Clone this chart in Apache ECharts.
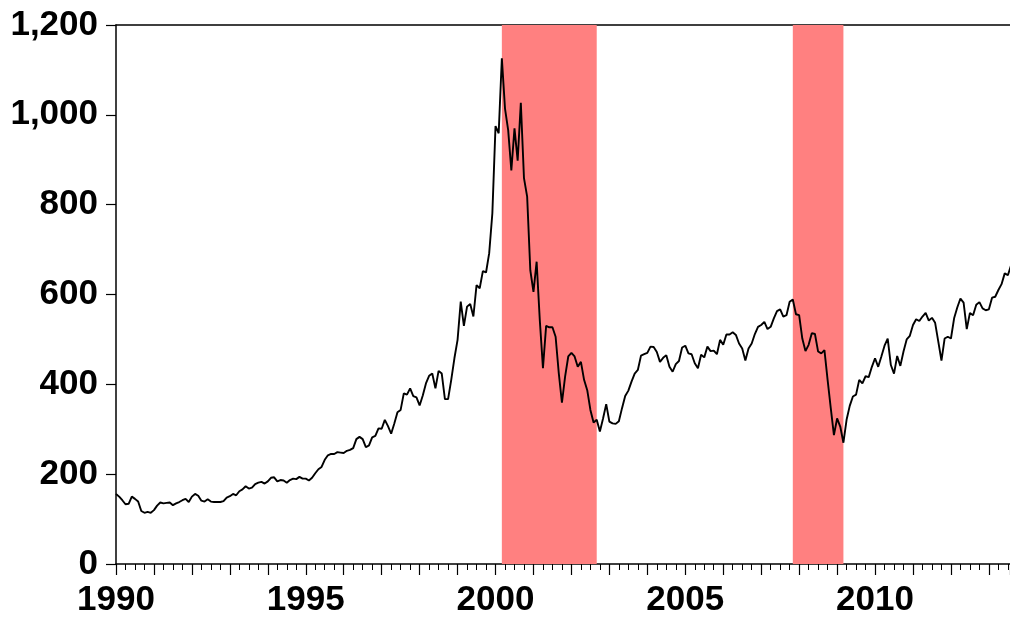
<!DOCTYPE html>
<html>
<head>
<meta charset="utf-8">
<script src="https://cdn.jsdelivr.net/npm/echarts@6/dist/echarts.min.js"></script>
<style>
  html, body { margin: 0; padding: 0; background: #ffffff; }
  #chart { width: 1010px; height: 622px; }
</style>
</head>
<body>
<div id="chart"></div>
<script>
// Monthly index level, January 1990 onwards (one row per year).
const startYear = 1990;
const values1990s = [
  156, 150, 142, 133, 134, 150, 145, 139, 118, 114, 116, 114,
  120, 130, 137, 135, 136, 137, 131, 135, 138, 142, 145, 138,
  150, 156, 152, 141, 139, 144, 139, 138, 138, 138, 140, 148,
  151, 156, 153, 162, 166, 173, 168, 170, 178, 181, 183, 179,
  184, 192, 193, 184, 187, 186, 181, 187, 190, 189, 194, 190,
  190, 186, 192, 202, 211, 216, 232, 242, 245, 245, 249, 248,
  247, 252, 254, 258, 278, 283, 278, 260, 264, 282, 285, 302,
  301, 321, 307, 290, 313, 338, 343, 380, 377, 391, 374, 371,
  353, 375, 402, 419, 424, 391, 430, 424, 367, 367, 410, 458,
  499, 584, 530, 573, 579, 551, 621, 614, 652, 649, 692, 781
];
const values2000s = [
  975, 959, 1126, 1014, 966, 876, 970, 898, 1027, 859, 818, 654,
  606, 673, 543, 436, 530, 527, 527, 506, 425, 359, 417, 462,
  470, 462, 439, 450, 410, 387, 343, 315, 321, 295, 324, 356,
  317, 313, 312, 318, 347, 374, 386, 406, 424, 432, 464, 467,
  470, 484, 483, 472, 450, 459, 465, 439, 428, 445, 452, 482,
  486, 469, 467, 447, 436, 466, 460, 484, 474, 475, 467, 499,
  488, 511, 511, 516, 510, 491, 480, 453, 480, 491, 512, 528,
  532, 539, 523, 528, 547, 563, 567, 551, 554, 584, 589, 556,
  554, 502, 474, 488, 514, 512, 473, 469, 476, 410, 347, 287,
  324, 306, 270, 321, 352, 373, 377, 410, 402, 418, 416, 439
];
const values2010s = [
  458, 439, 462, 486, 502, 443, 424, 463, 441, 473, 500, 508,
  532, 545, 541, 551, 559, 542, 548, 537, 495, 453, 502, 506,
  502, 547, 571, 591, 582, 523, 559, 554, 577, 583, 569, 565,
  567, 593, 595, 610, 623, 647, 643, 665
];

// Shaded periods as [start, end] in fractional years.
const shadedPeriods = [
  [2000 + 2 / 12, 2002 + 8 / 12],
  [2007 + 10 / 12, 2009 + 2 / 12]
];

const xMin = 1990;
const xMax = 2013.556;
const yTickValues = [0, 200, 400, 600, 800, 1000, 1200];
const xLabelYears = [1990, 1995, 2000, 2005, 2010];

const allValues = values1990s.concat(values2000s, values2010s);
const seriesData = allValues.map((v, i) => [startYear + i / 12, v]);

const labelFont = {
  fontFamily: '"Liberation Sans", Arial, sans-serif',
  fontWeight: 'bold',
  fontSize: 35,
  color: '#000000'
};

const chart = echarts.init(document.getElementById('chart'), null, { renderer: 'canvas' });

chart.setOption({
  animation: false,
  backgroundColor: '#ffffff',
  grid: { left: 116, top: 25, right: 0, bottom: 58, containLabel: false },
  xAxis: [
    {
      type: 'value',
      min: xMin,
      max: xMax,
      interval: 1,
      axisLine: { show: true, onZero: false, lineStyle: { color: '#000', width: 1.5 } },
      axisTick: { show: true, inside: false, length: 11, lineStyle: { color: '#000', width: 1.2 } },
      minorTick: { show: true, splitNumber: 4, length: 6, lineStyle: { color: '#000', width: 1 } },
      splitLine: { show: false },
      minorSplitLine: { show: false },
      axisLabel: Object.assign({
        margin: 19,
        showMinLabel: true,
        showMaxLabel: false,
        formatter: v => (xLabelYears.indexOf(Math.round(v)) >= 0 && Math.abs(v - Math.round(v)) < 1e-6) ? String(Math.round(v)) : ''
      }, labelFont)
    },
    {
      type: 'value',
      position: 'top',
      min: xMin,
      max: xMax,
      axisLine: { show: true, onZero: false, lineStyle: { color: '#000', width: 1.5 } },
      axisTick: { show: false },
      axisLabel: { show: false },
      splitLine: { show: false }
    }
  ],
  yAxis: {
    type: 'value',
    min: yTickValues[0],
    max: yTickValues[yTickValues.length - 1],
    interval: yTickValues[1] - yTickValues[0],
    axisLine: { show: true, onZero: false, lineStyle: { color: '#000', width: 1.5 } },
    axisTick: { show: true, inside: false, length: 10, lineStyle: { color: '#000', width: 1.2 } },
    splitLine: { show: false },
    axisLabel: Object.assign({
      margin: 18,
      formatter: v => v.toLocaleString('en-US')
    }, labelFont)
  },
  series: [
    {
      name: 'shading',
      type: 'line',
      data: [],
      z: 1,
      silent: true,
      markArea: {
        silent: true,
        itemStyle: { color: '#FF8080', opacity: 1 },
        data: shadedPeriods.map(p => [{ xAxis: p[0] }, { xAxis: p[1] }])
      }
    },
    {
      name: 'index',
      type: 'line',
      data: seriesData,
      z: 5,
      showSymbol: false,
      clip: true,
      lineStyle: { color: '#000000', width: 1.9 },
      itemStyle: { color: '#000000' }
    }
  ]
});
</script>
</body>
</html>
